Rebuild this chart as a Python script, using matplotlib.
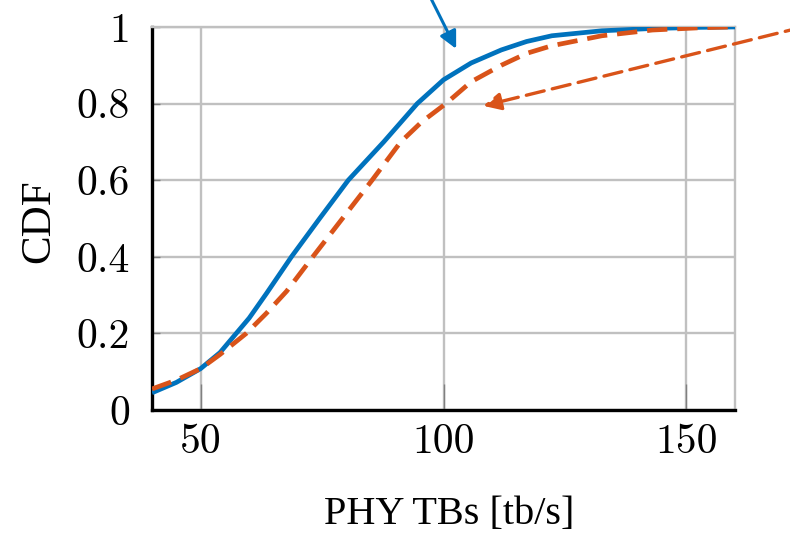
import numpy as np
import matplotlib
matplotlib.use("Agg")
import matplotlib.pyplot as plt

# CDF curves
x_blue = [40, 45, 50, 54, 57, 60, 63.6, 68.7, 74.5, 80.4, 87.7, 94.6, 100,
          105.7, 111.9, 117.1, 122.3, 132.6, 143, 153, 160]
cdf_blue = [0.045, 0.072, 0.108, 0.15, 0.195, 0.24, 0.305, 0.40, 0.50, 0.60, 0.70, 0.80, 0.862,
            0.906, 0.94, 0.962, 0.977, 0.990, 0.996, 0.999, 1.0]
x_orange = [40, 45, 50, 54, 59.4, 63.5, 67.7, 73.1, 79.2, 85.3, 91.2, 95.5, 100.5,
            105.7, 111.9, 117.1, 122.3, 132.6, 143, 153, 160]
cdf_orange = [0.055, 0.078, 0.108, 0.145, 0.20, 0.252, 0.31, 0.40, 0.50, 0.60, 0.70, 0.752, 0.80,
              0.857, 0.90, 0.931, 0.951, 0.977, 0.992, 0.998, 1.0]

x_ticks = [50, 100, 150]
y_ticks = [0, 0.2, 0.4, 0.6, 0.8, 1]
y_ticklabels = ["0", "0.2", "0.4", "0.6", "0.8", "1"]

BLUE = "#0072BD"
ORANGE = "#D95319"
GRID = "#c0c0c0"

fig = plt.figure(figsize=(7.9, 5.5), dpi=100)
ax = fig.add_axes([0.1924, 0.2545, 0.738, 0.6965])

ax.plot(x_blue, cdf_blue, color=BLUE, lw=3.4, solid_capstyle="butt",
        solid_joinstyle="round", zorder=3)
ax.plot(x_orange, cdf_orange, color=ORANGE, lw=3.4, linestyle=(0, (4.3, 2.1)), zorder=4)

ax.set_xlim(40, 160)
ax.set_ylim(0, 1)
ax.set_xticks(x_ticks)
ax.set_yticks(y_ticks)
ax.set_yticklabels(y_ticklabels)
ax.grid(True, color=GRID, lw=1.7)
ax.set_axisbelow(True)

for side in ["left", "bottom"]:
    ax.spines[side].set_linewidth(2.4)
    ax.spines[side].set_color("black")
for side in ["top", "right"]:
    ax.spines[side].set_linewidth(1.7)
    ax.spines[side].set_color(GRID)

ax.tick_params(axis="x", direction="in", length=19, width=1, color="#808080",
               pad=10, labelsize=30)
ax.tick_params(axis="y", direction="in", length=6, width=1, color="#808080",
               pad=16, labelsize=30)
for lab in ax.get_xticklabels() + ax.get_yticklabels():
    lab.set_fontfamily("cmr10")

ax.set_xlabel("PHY TBs [tb/s]", fontsize=29, family="Liberation Serif")
ax.xaxis.set_label_coords(0.51, -0.224)
ax.set_ylabel("CDF", fontsize=31, family="Liberation Serif")
ax.yaxis.set_label_coords(-0.16, 0.493)

# annotation arrows
ax.annotate("", xy=(102.6, 0.943), xytext=(96.8, 1.09), annotation_clip=False,
            arrowprops=dict(arrowstyle="-|>", color=BLUE, lw=2.2, mutation_scale=26,
                            shrinkA=0, shrinkB=0))
ax.annotate("", xy=(108.2, 0.794), xytext=(174, 1.0), annotation_clip=False,
            arrowprops=dict(arrowstyle="-|>", color=ORANGE, lw=2.4, mutation_scale=26,
                            linestyle=(0, (5.5, 2.5)), shrinkA=0, shrinkB=0))

fig.savefig("out.png", dpi=100)
